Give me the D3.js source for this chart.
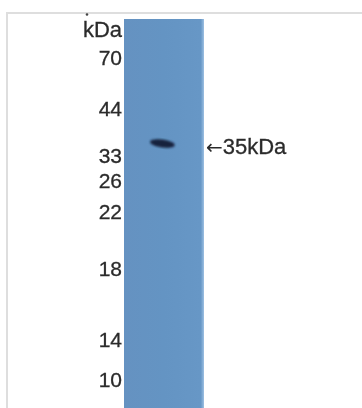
<!DOCTYPE html>
<html>
<head>
<meta charset="utf-8">
<script src="https://cdn.jsdelivr.net/npm/d3@7"></script>
<style>
  body { margin: 0; background: #fff; }
  svg { display: block; font-family: "Liberation Sans", Arial, sans-serif; }
</style>
</head>
<body>
<script>
const w = 362;
const h = 408;

// marker ladder (kDa) and how far each one ran down the lane (0 = top, 1 = bottom)
const markers = [70, 44, 33, 26, 22, 18, 14, 10];
const markerRf = [0.099, 0.231, 0.35, 0.414, 0.494, 0.64, 0.823, 0.927];
const lanes = ["sample"];
const bandKDa = [35];
const bandRf = [0.32];
const unit = "kDa";

const svg = d3.select("body").append("svg")
  .attr("width", w)
  .attr("height", h);

// frame lines
svg.append("line").attr("x1", 6).attr("x2", w).attr("y1", 13).attr("y2", 13)
  .attr("stroke", "#dedede").attr("stroke-width", 2);
svg.append("line").attr("x1", 7).attr("x2", 7).attr("y1", 12).attr("y2", h)
  .attr("stroke", "#dedede").attr("stroke-width", 2);

const laneTop = 19, laneBottom = h;
const y = d3.scaleLinear().domain([0, 1]).range([laneTop, laneBottom]);
const x = d3.scaleBand().domain(lanes).range([124, 204]);

// lane
const defs = svg.append("defs");
const grad = defs.append("linearGradient").attr("id", "laneGrad");
grad.append("stop").attr("offset", "0%").attr("stop-color", "#6592c1");
grad.append("stop").attr("offset", "50%").attr("stop-color", "#6494c3");
grad.append("stop").attr("offset", "96%").attr("stop-color", "#6797c6");
grad.append("stop").attr("offset", "100%").attr("stop-color", "#9dc0e2");

svg.selectAll("rect.lane")
  .data(lanes)
  .enter()
  .append("rect")
  .attr("class", "lane")
  .attr("x", d => x(d))
  .attr("y", y(0))
  .attr("width", x.bandwidth())
  .attr("height", y(1) - y(0))
  .attr("fill", "url(#laneGrad)");

// soft edges for band and text
defs.append("filter").attr("id", "soft")
  .append("feGaussianBlur").attr("stdDeviation", 1.2);
defs.append("filter").attr("id", "txt")
  .append("feGaussianBlur").attr("stdDeviation", 0.4);

const bx = x(lanes[0]) + x.bandwidth() * 0.48;
svg.selectAll("ellipse.band")
  .data(bandRf)
  .enter()
  .append("ellipse")
  .attr("class", "band")
  .attr("cx", bx)
  .attr("cy", d => y(d))
  .attr("rx", 12.5)
  .attr("ry", 4)
  .attr("transform", d => "rotate(8," + bx + "," + y(d) + ")")
  .attr("fill", "#14223c")
  .attr("filter", "url(#soft)");

const labels = svg.append("g")
  .attr("fill", "#2b2b2b")
  .attr("stroke", "#2b2b2b")
  .attr("stroke-width", 0.3)
  .attr("filter", "url(#txt)");

// marker labels
labels.selectAll("text.marker")
  .data(markers)
  .enter()
  .append("text")
  .attr("class", "marker")
  .attr("x", 122)
  .attr("y", (d, i) => y(markerRf[i]))
  .attr("dy", "0.36em")
  .attr("text-anchor", "end")
  .attr("font-size", 21)
  .text(d => d);

labels.append("text")
  .attr("x", 122)
  .attr("y", 29)
  .attr("dy", "0.36em")
  .attr("text-anchor", "end")
  .attr("font-size", 22)
  .text(unit);
svg.append("circle").attr("cx", 87).attr("cy", 14.5).attr("r", 1.3).attr("fill", "#444");

// band label
const bl = labels.selectAll("text.bandlabel")
  .data(bandKDa)
  .enter()
  .append("text")
  .attr("class", "bandlabel")
  .attr("x", 206)
  .attr("y", (d, i) => y(bandRf[i]) + 3)
  .attr("dy", "0.36em")
  .attr("font-size", 22);
bl.append("tspan")
  .attr("font-family", "DejaVu Sans")
  .attr("font-size", 20)
  .attr("stroke-width", 0)
  .text("←");
bl.append("tspan")
  .text(d => d + unit);
</script>
</body>
</html>
